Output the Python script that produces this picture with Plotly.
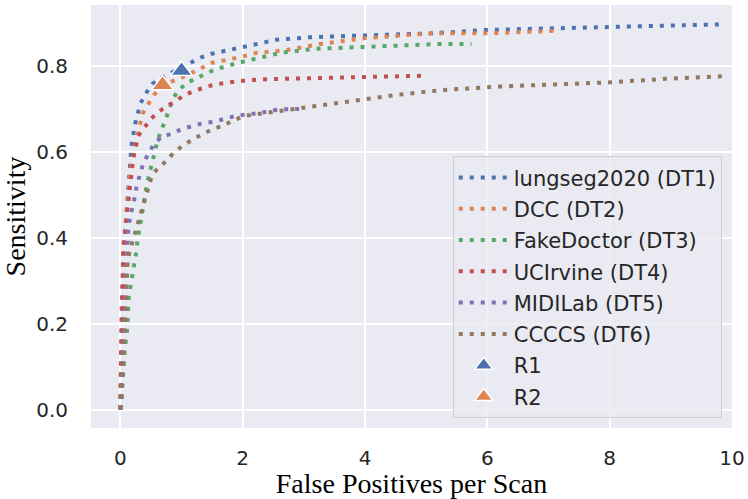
import plotly.graph_objects as go

# FROC curves
names = ["lungseg2020 (DT1)", "DCC (DT2)", "FakeDoctor (DT3)",
         "UCIrvine (DT4)", "MIDILab (DT5)", "CCCCS (DT6)"]
colors = ["#4C72B0", "#DD8452", "#55A868", "#C44E52", "#8172B3", "#937860"]

dt1_x = [0, 0.005, 0.015, 0.03, 0.045, 0.06, 0.08, 0.10, 0.12, 0.15, 0.18, 0.237, 0.28, 0.33,
         0.417, 0.52, 0.67, 0.825, 1.0, 1.15, 1.32, 1.48, 1.84, 2.0, 2.55, 3.1, 3.64, 4.57,
         5.08, 6.0, 7.29, 8.57, 9.86]
dt1_y = [0, 0.05, 0.15, 0.25, 0.33, 0.379, 0.42, 0.457, 0.509, 0.56, 0.611, 0.663, 0.689, 0.713,
         0.736, 0.758, 0.772, 0.783, 0.797, 0.808, 0.82, 0.828, 0.839, 0.845, 0.861, 0.867, 0.870,
         0.875, 0.876, 0.884, 0.889, 0.893, 0.897]

dt2_x = [0, 0.008, 0.02, 0.035, 0.05, 0.07, 0.10, 0.13, 0.17, 0.24, 0.28, 0.32, 0.36, 0.45,
         0.55, 0.69, 0.86, 1.16, 1.49, 2.0, 2.2, 2.72, 3.26, 4.0, 4.57, 5.08, 6.0, 7.1]
dt2_y = [0, 0.05, 0.15, 0.25, 0.33, 0.40, 0.46, 0.51, 0.56, 0.611, 0.637, 0.663, 0.688, 0.71,
         0.733, 0.752, 0.765, 0.783, 0.807, 0.822, 0.83, 0.837, 0.851, 0.865, 0.872, 0.876,
         0.876, 0.882]

dt3_x = [0, 0.02, 0.046, 0.07, 0.11, 0.14, 0.17, 0.20, 0.24, 0.26, 0.28, 0.31, 0.36, 0.43,
         0.47, 0.51, 0.55, 0.60, 0.66, 0.73, 0.79, 0.85, 0.94, 1.08, 1.25, 1.41, 1.57, 1.75,
         1.92, 2.12, 2.63, 3.18, 4.08, 5.19, 5.74]
dt3_y = [0, 0.03, 0.082, 0.134, 0.187, 0.264, 0.29, 0.316, 0.342, 0.367, 0.393, 0.418, 0.47,
         0.52, 0.546, 0.571, 0.597, 0.622, 0.647, 0.67, 0.695, 0.721, 0.742, 0.76, 0.773, 0.783,
         0.793, 0.801, 0.807, 0.814, 0.831, 0.84, 0.845, 0.851, 0.851]

dt4_x = [0, 0.003, 0.01, 0.02, 0.036, 0.046, 0.07, 0.09, 0.11, 0.13, 0.155, 0.19, 0.21, 0.25,
         0.29, 0.39, 0.50, 0.63, 0.78, 0.92, 1.07, 1.25, 1.41, 1.60, 1.95, 2.31, 3.04, 3.96,
         4.88, 5.03]
dt4_y = [0, 0.07, 0.146, 0.224, 0.301, 0.378, 0.406, 0.431, 0.457, 0.483, 0.507, 0.559, 0.585,
         0.61, 0.637, 0.656, 0.677, 0.694, 0.707, 0.721, 0.734, 0.744, 0.752, 0.758, 0.765,
         0.769, 0.771, 0.773, 0.777, 0.779]

dt5_x = [0, 0.01, 0.02, 0.035, 0.055, 0.08, 0.09, 0.10, 0.11, 0.12, 0.13, 0.155, 0.20, 0.24,
         0.27, 0.33, 0.37, 0.45, 0.54, 0.67, 0.84, 1.0, 1.18, 1.35, 1.52, 1.71, 1.89, 2.25,
         2.6, 2.96]
dt5_y = [0, 0.01, 0.03, 0.084, 0.16, 0.21, 0.30, 0.34, 0.367, 0.395, 0.42, 0.445, 0.47, 0.497,
         0.523, 0.548, 0.571, 0.594, 0.616, 0.635, 0.642, 0.653, 0.66, 0.667, 0.67, 0.676,
         0.684, 0.69, 0.699, 0.70]

dt6_x = [0, 0.01, 0.02, 0.036, 0.06, 0.085, 0.10, 0.11, 0.12, 0.15, 0.25, 0.31, 0.35, 0.40,
         0.45, 0.51, 0.62, 0.76, 0.88, 1.03, 1.18, 1.34, 1.51, 1.68, 1.84, 2.03, 2.39, 2.91,
         3.45, 4.0, 4.54, 5.27, 6.18, 7.1, 8.01, 8.92, 9.84]
dt6_y = [0, 0.006, 0.03, 0.084, 0.162, 0.212, 0.27, 0.317, 0.342, 0.367, 0.418, 0.444, 0.469,
         0.494, 0.517, 0.542, 0.564, 0.579, 0.60, 0.614, 0.629, 0.641, 0.653, 0.661, 0.673,
         0.684, 0.691, 0.703, 0.713, 0.723, 0.733, 0.744, 0.752, 0.757, 0.762, 0.770, 0.776]

curves_x = [dt1_x, dt2_x, dt3_x, dt4_x, dt5_x, dt6_x]
curves_y = [dt1_y, dt2_y, dt3_y, dt4_y, dt5_y, dt6_y]

# reader operating points
readers = ["R1", "R2"]
reader_x = [1.0, 0.69]
reader_y = [0.789, 0.756]
reader_colors = ["#4C72B0", "#DD8452"]

fig = go.Figure()

for i, name in enumerate(names):
    fig.add_trace(go.Scatter(
        x=curves_x[i], y=curves_y[i], mode="lines", name=name,
        legendgroup=name,
        line=dict(color=colors[i], width=4, dash="4px,7px"),
    ))

for i, r in enumerate(readers):
    fig.add_trace(go.Scatter(
        x=[reader_x[i]], y=[reader_y[i]], mode="markers", name=r,
        legendgroup=r,
        marker=dict(symbol="triangle-up", size=19, color=reader_colors[i],
                    line=dict(color="white", width=1.5)),
    ))

fig.update_layout(
    width=748, height=499,
    margin=dict(l=91, r=16, t=5, b=71),
    paper_bgcolor="white",
    plot_bgcolor="#EAEAF2",
    font=dict(family="DejaVu Sans", size=20, color="#262626"),
    legend=dict(
        x=0.984, y=0.023, xanchor="right", yanchor="bottom",
        bgcolor="rgba(234,234,242,0.8)",
        bordercolor="rgba(204,204,204,0.9)", borderwidth=1,
        font=dict(family="DejaVu Sans", size=21, color="#262626"),
        tracegroupgap=1, itemwidth=50,
    ),
    showlegend=True,
)

fig.update_xaxes(
    range=[-0.48, 10], tickvals=[0, 2, 4, 6, 8, 10],
    showgrid=True, gridcolor="white", gridwidth=1.6, zeroline=False,
    automargin=False,
    ticks="outside", ticklen=12, tickcolor="rgba(0,0,0,0)",
    tickfont=dict(family="DejaVu Sans", size=20, color="#262626"),
    title=dict(text="False Positives per Scan", standoff=0,
               font=dict(family="Liberation Serif", size=28, color="black")),
)
fig.update_yaxes(
    range=[-0.043, 0.942], tickvals=[0, 0.2, 0.4, 0.6, 0.8], tickformat=".1f",
    showgrid=True, gridcolor="white", gridwidth=1.6, zeroline=False,
    automargin=False,
    ticks="outside", ticklen=18, tickcolor="rgba(0,0,0,0)",
    tickfont=dict(family="DejaVu Sans", size=20, color="#262626"),
    title=dict(text="Sensitivity", standoff=4,
               font=dict(family="Liberation Serif", size=28, color="black")),
)

# drop the page's default body margin so the figure sits at the window corner
fig.write_html("out.html", config={"displayModeBar": False},
               post_script="document.body.style.margin='0';")
